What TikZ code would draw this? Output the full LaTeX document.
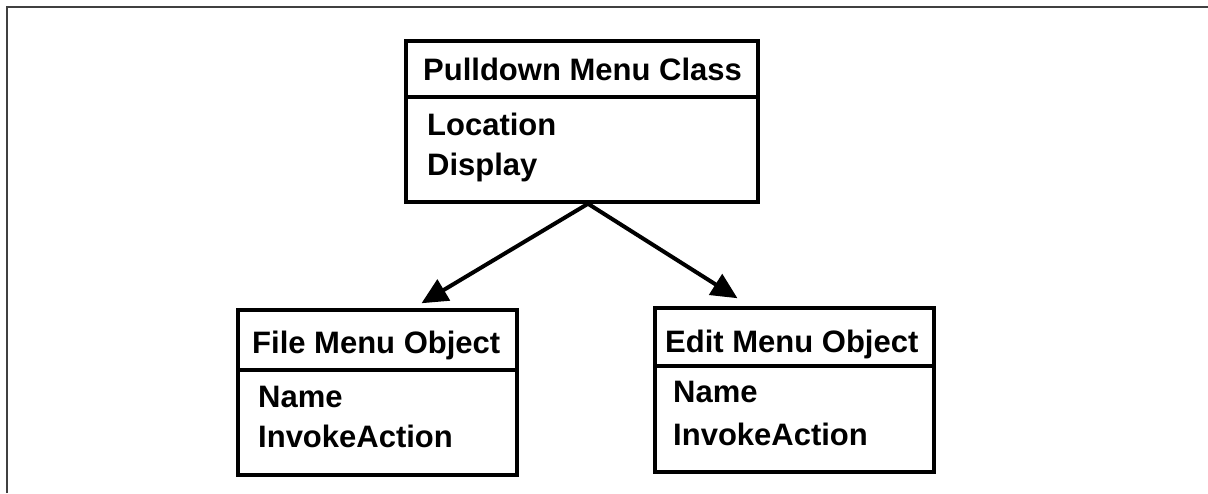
\documentclass[tikz,border=0pt]{standalone}
\usepackage{fontspec}
\setmainfont{Liberation Sans}
\usetikzlibrary{arrows.meta,calc}

\tikzset{
  classbox/.style={draw=black, line width=3.5pt, fill=white, inner sep=0pt},
  divider/.style={draw=black, line width=3.5pt},
  label/.style={inner sep=0pt, anchor=base west,
    font=\fontsize{31}{37}\selectfont\bfseries},
  inherit/.style={draw=black, line width=4pt,
    -{Triangle[length=26pt,width=24pt]}},
  frame/.style={draw=black!75, line width=2pt}
}

\begin{document}
\begin{tikzpicture}[x=1pt, y=-1pt]
  \useasboundingbox (0,0) rectangle (1208,493);

  % outer frame (top and left edges)
  \draw[frame] (7,493) -- (7,7) -- (1208,7);

  % class: Pulldown Menu Class
  \node[classbox, minimum width=352pt, minimum height=161pt] (pd) at (582,121.5) {};
  \draw[divider] (406,97) -- (758,97);
  \node[label] (pdtitle) at (423,80) {Pulldown Menu Class};
  \node[label] (pdloc) at (427,135) {Location};
  \node[label] (pddisp) at (427,175) {Display};

  % object: File Menu Object
  \node[classbox, minimum width=279pt, minimum height=165pt] (file) at (377.5,392.5) {};
  \draw[divider] (238,370) -- (517,370);
  \node[label] (filetitle) at (252,353) {File Menu Object};
  \node[label] (filename) at (258,407) {Name};
  \node[label] (fileinv) at (258,447) {InvokeAction};

  % object: Edit Menu Object
  \node[classbox, minimum width=279pt, minimum height=164pt] (edit) at (794.5,390) {};
  \draw[divider] (655,366) -- (934,366);
  \node[label] (edittitle) at (665,352) {Edit Menu Object};
  \node[label] (editname) at (673,402) {Name};
  \node[label] (editinv) at (673,445) {InvokeAction};

  % instance arrows from the class to both objects
  \draw[inherit] ([xshift=6pt]pd.south) -- ([xshift=44pt,yshift=5pt]file.north);
  \draw[inherit] ([xshift=6pt]pd.south) -- ([xshift=-57pt,yshift=8pt]edit.north);
\end{tikzpicture}
\end{document}
